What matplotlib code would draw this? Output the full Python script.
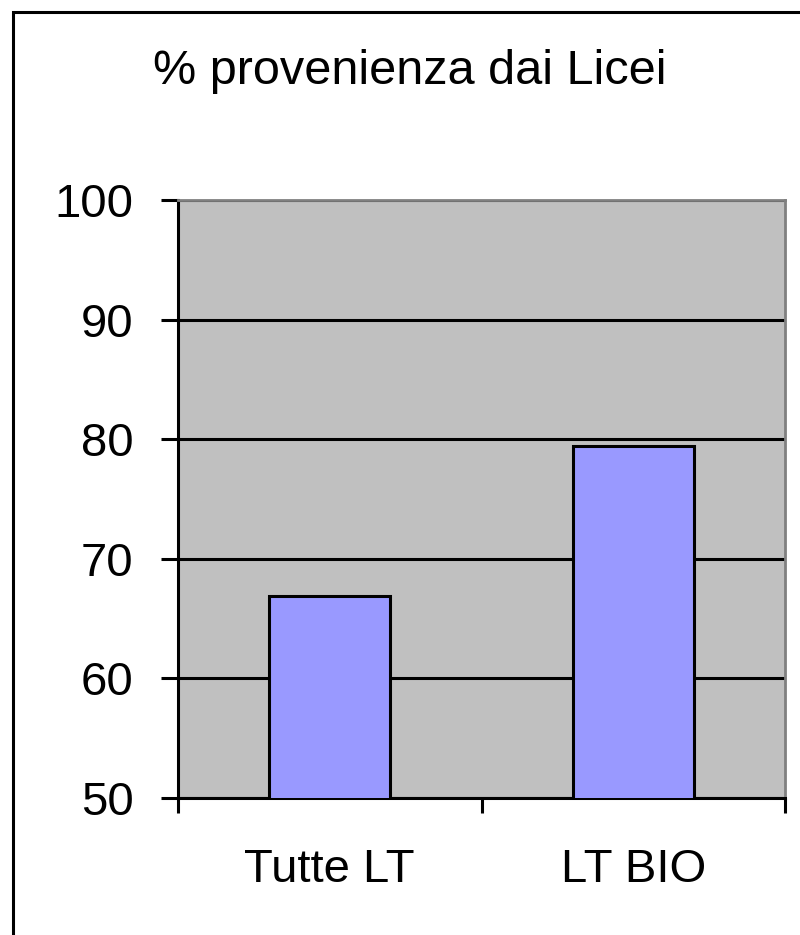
import matplotlib
matplotlib.use("Agg")
from matplotlib import pyplot as plt
from matplotlib.patches import Rectangle

categorie = ["Tutte LT", "LT BIO"]
valori = [66.9, 79.4]
tick_y = [50, 60, 70, 80, 90, 100]

plt.rcParams['font.family'] = ['Liberation Sans', 'DejaVu Sans']

fig = plt.figure(figsize=(8, 9.35), dpi=100)
ax = fig.add_axes([0.2225, 0.1465, 0.7588, 0.6396])

ax.set_facecolor('#c0c0c0')
x = range(len(categorie))
ax.bar(x, valori, width=0.4, color='#9999ff', edgecolor='black', linewidth=2.2, zorder=3)

ax.set_ylim(50, 100)
ax.set_xlim(-0.5, 1.5)
ax.set_yticks(tick_y)
ax.set_yticklabels([str(v) for v in tick_y])
ax.yaxis.grid(True, color='black', linewidth=2.2, zorder=1)
ax.set_axisbelow(True)

# tacche ai bordi delle categorie, etichette al centro
ax.set_xticks([-0.5, 0.5, 1.5])
ax.set_xticklabels([])
ax.set_xticks([0, 1], minor=True)
ax.set_xticklabels(categorie, minor=True)
ax.tick_params(axis='x', which='minor', length=0, pad=36, labelsize=34)
ax.tick_params(axis='x', which='major', length=11, width=2.2)
ax.tick_params(axis='y', length=12, width=2.2, pad=20, labelsize=34)

ax.spines['left'].set_linewidth(2.2)
ax.spines['bottom'].set_linewidth(2.2)
ax.spines['top'].set_color('#808080')
ax.spines['right'].set_color('#808080')
ax.spines['top'].set_linewidth(2)
ax.spines['right'].set_linewidth(2)

fig.text(0.5125, 0.923, "% provenienza dai Licei", ha='center', va='center', fontsize=35)

# cornice esterna
fig.patches.append(Rectangle((0.016, -0.05), 1.1, 1.0372, transform=fig.transFigure,
                             fill=False, edgecolor='black', linewidth=2.2))

fig.savefig("out.png", dpi=100)
